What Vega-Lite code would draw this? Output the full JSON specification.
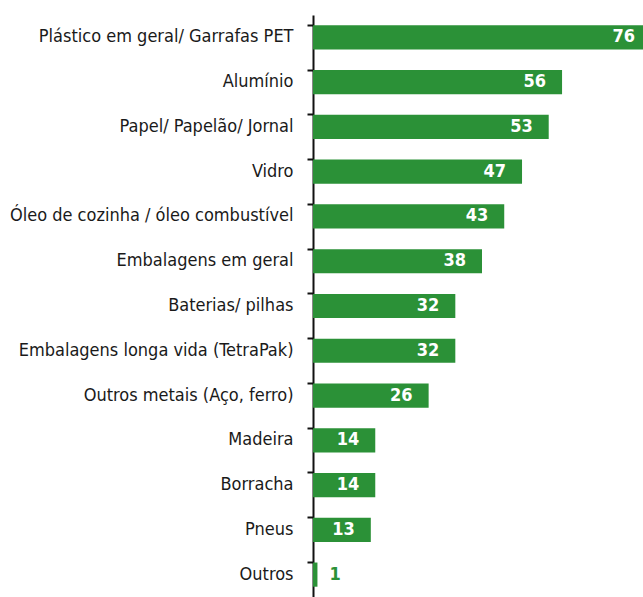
{
  "$schema": "https://vega.github.io/schema/vega-lite/v6.json",
  "autosize": "none",
  "width": 330,
  "height": 582,
  "padding": {"left": 313, "top": 15, "right": 0, "bottom": 0},
  "background": "white",
  "config": {"view": {"stroke": null}},
  "data": {
    "values": [
      {"item": "Plástico em geral/ Garrafas PET", "v": 76},
      {"item": "Alumínio", "v": 56},
      {"item": "Papel/ Papelão/ Jornal", "v": 53},
      {"item": "Vidro", "v": 47},
      {"item": "Óleo de cozinha / óleo combustível", "v": 43},
      {"item": "Embalagens em geral", "v": 38},
      {"item": "Baterias/ pilhas", "v": 32},
      {"item": "Embalagens longa vida (TetraPak)", "v": 32},
      {"item": "Outros metais (Aço, ferro)", "v": 26},
      {"item": "Madeira", "v": 14},
      {"item": "Borracha", "v": 14},
      {"item": "Pneus", "v": 13},
      {"item": "Outros", "v": 1}
    ]
  },
  "encoding": {
    "y": {
      "field": "item", "type": "nominal", "sort": null,
      "scale": {"paddingInner": 0.46, "paddingOuter": 0.23},
      "axis": {
        "title": null,
        "bandPosition": 0,
        "labelFont": "DejaVu Sans Condensed, Roboto",
        "labelFontSize": 18,
        "labelColor": "#1a1a1a",
        "labelPadding": 14,
        "tickSize": 6,
        "tickWidth": 2,
        "tickColor": "#111111",
        "domainWidth": 2,
        "domainColor": "#111111",
        "labelLimit": 400
      }
    },
    "x": {
      "field": "v", "type": "quantitative",
      "scale": {"domain": [0, 74.2], "nice": false},
      "axis": null
    }
  },
  "layer": [
    {"mark": {"type": "bar", "color": "#2b9137", "clip": true}},
    {
      "transform": [{"filter": "datum.v >= 5"}],
      "mark": {"type": "text", "align": "right", "baseline": "middle", "dx": -16, "font": "DejaVu Sans Condensed, Roboto", "fontWeight": "bold", "fontSize": 18, "color": "white"},
      "encoding": {"text": {"field": "v", "type": "quantitative"}}
    },
    {
      "transform": [{"filter": "datum.v < 5"}],
      "mark": {"type": "text", "align": "left", "baseline": "middle", "dx": 12, "font": "DejaVu Sans Condensed, Roboto", "fontWeight": "bold", "fontSize": 18, "color": "#2b9137"},
      "encoding": {"text": {"field": "v", "type": "quantitative"}}
    }
  ]
}
